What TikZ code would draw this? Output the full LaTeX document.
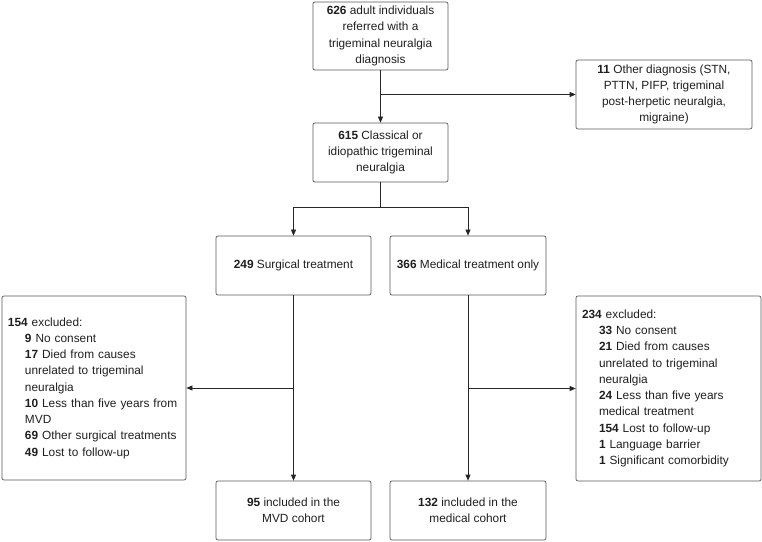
\documentclass[tikz,border=0pt]{standalone}
\usepackage{fontspec}
\setmainfont{Liberation Sans}
\usetikzlibrary{positioning, arrows.meta}

% indent for the sub-items of the exclusion lists
\newcommand{\ind}{\hspace*{17bp}}

\begin{document}
\begin{tikzpicture}[x=1bp, y=-1bp,
  box/.style={draw=black!65, line width=0.7bp, rounded corners=2bp, align=center,
    inner sep=0pt, text=black!88, font=\fontsize{11.9}{16.3}\selectfont},
  exclbox/.style={box, align=left, inner xsep=6bp},
  link/.style={draw=black!85, line width=0.7bp, -{Triangle[length=6bp,width=5bp]}}
]

  \useasboundingbox (0,0) rectangle (762,542);

  % Screening
  \node[box, minimum width=135bp, minimum height=68bp] (top) at (380.5,36)
    {\textbf{626} adult individuals\\referred with a\\trigeminal neuralgia\\diagnosis};
  \node[box, minimum width=176bp, minimum height=69bp] (oth) at (664,94.5)
    {\textbf{11} Other diagnosis (STN,\\PTTN, PIFP, trigeminal\\post-herpetic neuralgia,\\migraine)};
  \node[box, minimum width=135bp, minimum height=59bp] (cls) at (380.5,152.5)
    {\textbf{615} Classical or\\idiopathic trigeminal\\neuralgia};

  % Treatment groups
  \node[box, minimum width=155bp, minimum height=59bp] (surg) at (293.5,265.5)
    {\textbf{249} Surgical treatment};
  \node[box, minimum width=156bp, minimum height=59bp] (med) at (468,265.5)
    {\textbf{366} Medical treatment only};

  % Exclusions
  \node[exclbox, text width=172bp, minimum height=184bp] (lexcl) at (94,388)
    {\textbf{154} excluded:\\
     \ind\textbf{9} No consent\\
     \ind\textbf{17} Died from causes\\
     \ind unrelated to trigeminal\\
     \ind neuralgia\\
     \ind\textbf{10} Less than five years from\\
     \ind MVD\\
     \ind\textbf{69} Other surgical treatments\\
     \ind\textbf{49} Lost to follow-up};
  \node[exclbox, text width=173bp, minimum height=185bp] (rexcl) at (668.5,388.5)
    {\textbf{234} excluded:\\
     \ind\textbf{33} No consent\\
     \ind\textbf{21} Died from causes\\
     \ind unrelated to trigeminal\\
     \ind neuralgia\\
     \ind\textbf{24} Less than five years\\
     \ind medical treatment\\
     \ind\textbf{154} Lost to follow-up\\
     \ind\textbf{1} Language barrier\\
     \ind\textbf{1} Significant comorbidity};

  % Cohorts
  \node[box, minimum width=155bp, minimum height=59bp] (mvd) at (293.5,510.5)
    {\textbf{95} included in the\\MVD cohort};
  \node[box, minimum width=156bp, minimum height=59bp] (medc) at (468,510.5)
    {\textbf{132} included in the\\medical cohort};

  % Connectors
  \draw[link] (top) -- (cls);
  \coordinate (tap) at (top.south |- oth.west);
  \draw[link] (tap) -- (oth.west);

  \coordinate (split) at (380.5,207);
  \draw[draw=black!85, line width=0.7bp] (cls) -- (split);
  \draw[link] (split) -| (surg);
  \draw[link] (split) -| (med);

  \draw[link] (surg) -- (mvd);
  \draw[link] (med) -- (medc);
  \coordinate (sbr) at (surg.south |- lexcl.east);
  \coordinate (mbr) at (med.south |- rexcl.west);
  \draw[link] (sbr) -- (lexcl.east);
  \draw[link] (mbr) -- (rexcl.west);

\end{tikzpicture}
\end{document}
